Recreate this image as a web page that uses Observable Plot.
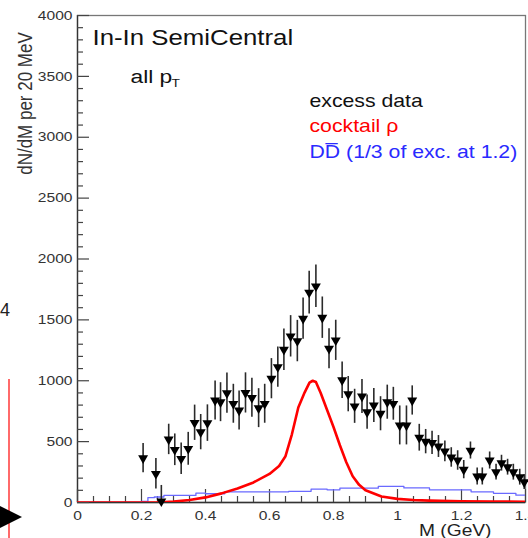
<!DOCTYPE html>
<html>
<head>
<meta charset="utf-8">
<script src="https://cdn.jsdelivr.net/npm/d3@7"></script>
<script src="https://cdn.jsdelivr.net/npm/@observablehq/plot@0.6"></script>
<style>
  html, body { margin: 0; padding: 0; background: #fff; }
  #wrap { position: relative; width: 528px; height: 538px; overflow: hidden; }
  #chart svg { display: block; }
  .edge4 { position: absolute; left: 0px; top: 300px; font: 18px 'Liberation Sans', Arial, sans-serif; color: #222; }
  .edgeline { position: absolute; left: 8px; top: 379px; width: 1.5px; height: 160px; background: #ff6a6a; }
  .edgearrow { position: absolute; left: -2px; top: 505px; width: 0; height: 0;
    border-top: 12px solid transparent; border-bottom: 12px solid transparent; border-left: 24px solid #000; }
</style>
</head>
<body>
<div id="wrap"><div id="chart"></div>
<div class="edge4">4</div><div class="edgeline"></div><div class="edgearrow"></div>
</div>
<script>
// ---- excess data (M in GeV, counts per 20 MeV, stat. error) ----
const mass = [0.205,0.245,0.262,0.285,0.304,0.324,0.346,0.366,0.385,0.406,0.43,0.447,0.467,0.487,0.505,0.525,0.545,0.566,0.585,0.606,0.626,0.645,0.666,0.687,0.705,0.724,0.745,0.765,0.786,0.807,0.827,0.846,0.866,0.889,0.905,0.926,0.947,0.968,0.987,1.007,1.028,1.046,1.068,1.088,1.108,1.128,1.148,1.168,1.188,1.207,1.228,1.249,1.265,1.288,1.308,1.325,1.344,1.362,1.382,1.396];
const counts = [364,236,10,518,433,359,441,655,578,652,838,824,898,811,756,900,860,775,811,1017,1112,1255,1365,1326,1510,1724,1776,1518,1263,1332,1005,890,790,871,742,797,729,824,811,633,633,838,532,500,490,460,420,370,345,270,427,214,214,345,249,323,290,249,208,167];
const errors = [120,125,130,125,130,130,135,145,145,150,160,160,165,160,160,165,160,160,160,165,165,170,170,170,170,175,175,170,165,165,150,145,140,140,140,140,140,140,135,160,160,120,110,100,95,90,85,80,80,75,70,70,70,70,65,65,65,65,65,60];

// ---- cocktail rho ----
const rhoM = [0,0.25,0.3,0.35,0.4,0.45,0.5,0.55,0.6,0.63,0.65,0.67,0.69,0.71,0.725,0.735,0.745,0.76,0.78,0.8,0.82,0.84,0.86,0.88,0.9,0.95,1.0,1.05,1.1,1.2,1.3,1.4];
const rhoY = [0,0,8,20,42,75,115,165,235,300,380,560,780,905,985,1000,990,900,760,620,470,330,215,145,100,50,30,20,15,10,8,6];

// ---- open charm DDbar (1/3 of excess at 1.2) ----
const ddM = [0,0.2,0.22,0.24,0.27,0.37,0.4,0.46,0.66,0.73,0.78,0.82,0.94,1.02,1.1,1.23,1.3,1.37,1.4];
const ddY = [0,10,40,45,58,77,72,88,92,110,104,118,132,120,104,88,75,60,60];

// ---- ticks & texts ----
const xMajor = [0,0.2,0.4,0.6,0.8,1,1.2,1.4];
const xMinor = [0.05,0.1,0.15,0.25,0.3,0.35,0.45,0.5,0.55,0.65,0.7,0.75,0.85,0.9,0.95,1.05,1.1,1.15,1.25,1.3,1.35];
const yMajor = [0,500,1000,1500,2000,2500,3000,3500,4000];
const yMinor = d3.range(0,4001,100).filter(v => v % 500 !== 0);
const titleText = "In-In SemiCentral";
const subText = "all p";
const subScript = "T";
const legendItems = ["excess data", "cocktail \u03c1", "DD\u0305 (1/3 of exc. at 1.2)"];
const legendColors = ["#111111", "#ff0000", "#2a2aff"];
const yLabel = "dN/dM per 20 MeV";
const xLabel = "M (GeV)";

const data = mass.map((m,i) => ({m, y: counts[i], e: errors[i]}));
const rho = rhoM.map((m,i) => ({m, y: rhoY[i]}));
const dd = ddM.map((m,i) => ({m, y: ddY[i]}));

const W = 528, H = 538, ML = 77, MR = 3, MT = 15, MB = 36;
const FW = W - ML - MR, FH = H - MT - MB;   // frame size in px
const font = "'Liberation Sans', Arial, Helvetica, sans-serif";
const legendMarks = legendItems.map((t, i) =>
  Plot.text([t], {text: d => d, fill: legendColors[i], frameAnchor: "top-left", dx: 232, dy: 91 + i * 25.5,
    textAnchor: "start", lineAnchor: "bottom", fontSize: 17.7}));

const chart = Plot.plot({
  width: W, height: H,
  marginLeft: ML, marginRight: MR, marginTop: MT, marginBottom: MB,
  style: {fontFamily: font, background: "#fff", color: "#333", overflow: "visible"},
  x: {domain: [0, 1.4]},
  y: {domain: [0, 4000]},
  marks: [
    Plot.frame({stroke: "#777", strokeWidth: 1.3}),
    Plot.ruleX([0], {stroke: "#333", strokeWidth: 1.3}),
    Plot.ruleY([0], {stroke: "#333", strokeWidth: 1.3}),
    // inward ticks (ROOT style)
    Plot.tickY(yMinor, {y: d => d, insetRight: FW - 6, stroke: "#444", strokeWidth: 1.2}),
    Plot.tickY(yMajor, {y: d => d, insetRight: FW - 12, stroke: "#444", strokeWidth: 1.2}),
    Plot.tickX(xMinor, {x: d => d, insetTop: FH - 6, stroke: "#444", strokeWidth: 1.2}),
    Plot.tickX(xMajor, {x: d => d, insetTop: FH - 13, stroke: "#444", strokeWidth: 1.2}),
    Plot.axisY(yMajor, {tickSize: 0, tickPadding: 5, fontSize: 13, label: null, fill: "#333", tickFormat: d => String(d)}),
    Plot.axisX(xMajor, {tickSize: 0, tickPadding: 8, fontSize: 13, label: null, fill: "#333", tickFormat: d => String(d)}),
    Plot.line(dd, {x: "m", y: "y", curve: "step-after", stroke: "#6a6aff", strokeWidth: 1.3, clip: true}),
    Plot.line(rho, {x: "m", y: "y", stroke: "#ff0000", strokeWidth: 2.6, clip: true}),
    Plot.ruleX(data, {x: "m", y1: d => d.y - d.e, y2: d => d.y + d.e, stroke: "#2a2a2a", strokeWidth: 1.6, clip: true}),
    Plot.dot(data, {x: "m", y: "y", symbol: "triangle", rotate: 180, r: 3.7, fill: "#000", stroke: "none"}),
    Plot.text([titleText], {text: d => d, frameAnchor: "top-left", dx: 15, dy: 29, textAnchor: "start", lineAnchor: "bottom", fontSize: 21.5, fill: "#111"}),
    Plot.text([subText], {text: d => d, frameAnchor: "top-left", dx: 53, dy: 67, textAnchor: "start", lineAnchor: "bottom", fontSize: 19, fill: "#111"}),
    Plot.text([subScript], {text: d => d, frameAnchor: "top-left", dx: 94, dy: 71, textAnchor: "start", lineAnchor: "bottom", fontSize: 11.5, fill: "#111"}),
    ...legendMarks,
    Plot.text([yLabel], {text: d => d, frameAnchor: "top-left", dx: -52, dy: 88, rotate: -90, textAnchor: "middle", lineAnchor: "middle", fontSize: 17, fill: "#333"}),
    Plot.text([xLabel], {text: d => d, frameAnchor: "bottom-right", dx: -34, dy: 33, textAnchor: "end", lineAnchor: "bottom", fontSize: 16, fill: "#222"})
  ]
});

// the reference's lettering is horizontally stretched: widen every text about its anchor
chart.querySelectorAll("text").forEach(t => {
  const tr = t.getAttribute("transform");
  if (tr && /^translate\([^)]*\)/.test(tr)) {
    t.setAttribute("transform", tr.replace(/^(translate\([^)]*\))/, "$1 scale(1.2,1)"));
  }
});

document.getElementById("chart").appendChild(chart);
</script>
</body>
</html>
